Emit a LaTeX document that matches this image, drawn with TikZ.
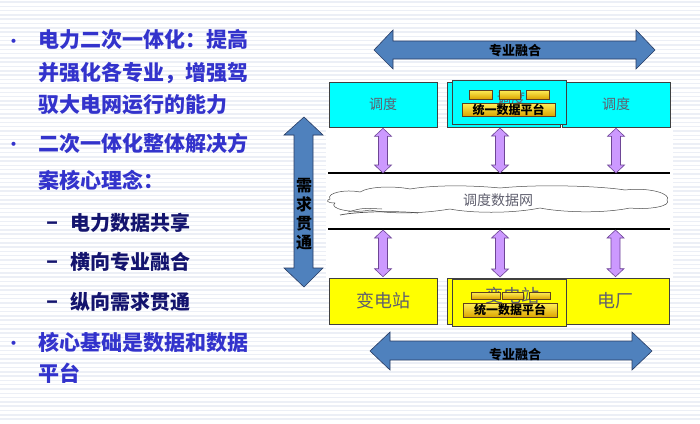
\documentclass[tikz,border=0pt]{standalone}
\usepackage{fontspec}
\setmainfont{Noto Sans CJK SC}
\newfontfamily\cjk{Noto Sans CJK SC}
\usetikzlibrary{calc}

\definecolor{bullettext}{RGB}{51,51,204}
\definecolor{subtext}{RGB}{20,20,110}
\definecolor{arrowblue}{RGB}{79,129,189}
\definecolor{arrowedge}{RGB}{40,60,100}
\definecolor{boxcyan}{RGB}{0,255,255}
\definecolor{boxyellow}{RGB}{255,255,0}
\definecolor{boxtext}{RGB}{95,95,110}
\definecolor{lavender}{RGB}{204,153,255}
\definecolor{lavedge}{RGB}{110,70,150}
\definecolor{goldtop}{RGB}{255,240,90}
\definecolor{goldbot}{RGB}{220,165,0}
\definecolor{stripe}{RGB}{236,239,246}

% vertical two-way link from #1 (upper end) to #2 (lower end)
\newcommand{\bothways}[2]{%
  \filldraw[fill=lavender, draw=lavedge, line width=0.6pt, line join=miter]
    let \p1=#1, \p2=#2 in
    (\x1,\y1) -- (\x1+8.5pt,\y1-8pt) -- (\x1+4.5pt,\y1-8pt) -- (\x1+4.5pt,\y2+8pt)
    -- (\x1+8.5pt,\y2+8pt) -- (\x1,\y2) -- (\x1-8.5pt,\y2+8pt) -- (\x1-4.5pt,\y2+8pt)
    -- (\x1-4.5pt,\y1-8pt) -- (\x1-8.5pt,\y1-8pt) -- cycle;}

\begin{document}
\begin{tikzpicture}[
    x=1pt, y=-1pt,
    font=\cjk,
    cyanbox/.style={draw=black!75, fill=boxcyan, line width=0.6pt, minimum width=108pt,
        minimum height=45pt, inner sep=0pt, text=boxtext, font=\cjk\fontsize{14}{14}\selectfont},
    yellowbox/.style={cyanbox, fill=boxyellow, minimum height=46pt, font=\cjk\fontsize{18}{18}\selectfont},
    goldbar/.style={draw=black!50!brown, top color=goldtop, bottom color=goldbot, line width=0.5pt,
        inner sep=0pt, font=\cjk\bfseries\fontsize{12}{12}\selectfont},
    bigarrow/.style={fill=arrowblue, draw=arrowedge, line width=0.6pt, line join=miter},
    arrowlabel/.style={inner sep=0pt, font=\cjk\bfseries\fontsize{13}{13}\selectfont},
    bulletline/.style={anchor=west, inner sep=0pt, text=bullettext, font=\cjk\bfseries\fontsize{21}{21}\selectfont},
    bulletmark/.style={inner sep=0pt, text=bullettext, font=\cjk\fontsize{19}{19}\selectfont},
    subline/.style={bulletline, text=subtext, font=\cjk\bfseries\fontsize{20}{20}\selectfont},
    submark/.style={inner sep=0pt, text=subtext, font=\cjk\bfseries\fontsize{22}{22}\selectfont},
    netline/.style={line width=2.6pt}
]
    \useasboundingbox (0,0) rectangle (700,423);
    \fill[white] (0,0) rectangle (700,423);

    % Slide background
    \foreach \y in {2,6.3,...,422}
        \draw[stripe, line width=1.5pt] (0,\y) -- (700,\y);
    \fill[white] (326,128) rectangle (673,278);

    % Left text
    \node[bulletmark] (b1) at (14,44) {•};
    \node[bulletline] (t1a) at (38,40) {电力二次一体化：提高};
    \node[bulletline] (t1b) at (38,73) {并强化各专业，增强驾};
    \node[bulletline] (t1c) at (38,105) {驭大电网运行的能力};
    \node[bulletmark] (b2) at (14,147) {•};
    \node[bulletline] (t2a) at (38,143) {二次一体化整体解决方};
    \node[bulletline] (t2b) at (38,180) {案核心理念：};
    \node[submark] (d1) at (53,226) {–};
    \node[subline] (s1) at (70,223) {电力数据共享};
    \node[submark] (d2) at (53,265) {–};
    \node[subline] (s2) at (70,262) {横向专业融合};
    \node[submark] (d3) at (53,305) {–};
    \node[subline] (s3) at (70,302) {纵向需求贯通};
    \node[bulletmark] (b3) at (14,346) {•};
    \node[bulletline] (t3a) at (38,342) {核心基础是数据和数据};
    \node[bulletline] (t3b) at (38,373) {平台};

    % Horizontal fusion arrows
    \draw[bigarrow] (374,50) -- (393,30) -- (393,41) -- (636,41) -- (636,30) -- (655,50)
        -- (636,69) -- (636,59) -- (393,59) -- (393,69) -- cycle;
    \node[arrowlabel] (fuseTop) at (515,51) {专业融合};
    \draw[bigarrow] (370,351) -- (390,332) -- (390,341) -- (632,341) -- (632,332) -- (652,351)
        -- (632,370) -- (632,360) -- (390,360) -- (390,370) -- cycle;
    \node[arrowlabel] (fuseBot) at (515,355) {专业融合};

    % Vertical demand arrow
    \draw[bigarrow] (304,117) -- (323,135) -- (313,135) -- (313,268) -- (323,268) -- (304,287)
        -- (284,268) -- (294,268) -- (294,135) -- (284,135) -- cycle;
    \node[inner sep=0pt, align=center, font=\cjk\bfseries\fontsize{16}{19}\selectfont] (demand)
        at (304,214) {需\\求\\贯\\通};

    % Dispatch boxes
    \node[cyanbox] (ddLeft) at (383,104.5) {调度};
    \node[cyanbox, minimum width=113pt] (ddMidBack) at (503.5,104.5) {};
    \node[cyanbox] (ddRight) at (616,104.5) {调度};
    \node[cyanbox, minimum width=114pt, minimum height=44pt] (ddMidFront) at (509,102) {};
    \node[text=boxtext, font=\cjk\fontsize{14}{14}\selectfont] (ddMidText) at (511,98) {调度};
    \node[goldbar, minimum width=23pt, minimum height=9pt] (barA) at (480.5,94.5) {};
    \node[goldbar, minimum width=21pt, minimum height=9pt] (barB) at (509.5,94.5) {};
    \node[goldbar, minimum width=23pt, minimum height=9pt] (barC) at (537.5,94.5) {};
    \node[goldbar, minimum width=93pt, minimum height=13pt] (platTop) at (508.5,109.5) {统一数据平台};

    % Substation boxes
    \node[yellowbox] (subLeft) at (383,301) {变电站};
    \node[yellowbox, minimum width=113pt] (subMidBack) at (503.5,301) {};
    \node[yellowbox] (plantRight) at (615.5,301) {电厂};
    \node[yellowbox, minimum width=114pt, minimum height=47pt] (subMidFront) at (509,302.5) {};
    \node[text=boxtext, font=\cjk\fontsize{18}{18}\selectfont] (subMidText) at (512,296) {变电站};
    \node[goldbar, minimum width=29pt, minimum height=7pt] (barD) at (485.5,295.5) {};
    \node[goldbar, minimum width=21pt, minimum height=7pt] (barE) at (512.5,295.5) {};
    \node[goldbar, minimum width=21pt, minimum height=7pt] (barF) at (539.5,295.5) {};
    \node[goldbar, minimum width=94pt, minimum height=14pt] (platBot) at (510,310) {统一数据平台};

    % Dispatch data network
    \coordinate (netTopL) at (328,173);
    \coordinate (netTopR) at (670,173);
    \coordinate (netBotL) at (328,229);
    \coordinate (netBotR) at (670,229);
    \draw[netline] (netTopL) -- (netTopR);
    \draw[netline] (netBotL) -- (netBotR);
    \filldraw[fill=white, draw=black!70, line width=0.5pt]
        (330,199) .. controls (326,193) and (345,189) .. (360,192)
        .. controls (370,186) and (395,186) .. (410,189)
        .. controls (440,184) and (480,186) .. (500,188)
        .. controls (540,184) and (600,186) .. (625,190)
        .. controls (650,187) and (672,194) .. (667,200)
        .. controls (672,206) and (650,210) .. (630,208)
        .. controls (600,214) and (560,212) .. (540,208)
        .. controls (510,214) and (470,213) .. (450,209)
        .. controls (420,214) and (390,214) .. (370,210)
        .. controls (350,214) and (328,208) .. (335,203)
        .. controls (326,203) and (326,200) .. (330,199) -- cycle;
    \draw[black!70, line width=0.7pt] (340,215) .. controls (360,211) and (400,211) .. (418,213);
    \draw[black!70, line width=0.5pt] (348,212) .. controls (362,208) .. (382,209);
    \node[text=boxtext, font=\cjk\fontsize{14}{14}\selectfont] (netName) at (498,200) {调度数据网};

    % Links to the network
    \coordinate (midUp) at (500,127);
    \coordinate (midDown) at (500,278);
    \bothways{($(ddLeft.south)+(0,1)$)}{(ddLeft.south |- netTopL)}
    \bothways{($(midUp)+(0,1)$)}{(midUp |- netTopL)}
    \bothways{($(ddRight.south)+(0,1)$)}{(ddRight.south |- netTopL)}
    \bothways{($(subLeft.north |- netBotL)+(0,1)$)}{($(subLeft.north)+(0,-1)$)}
    \bothways{($(midDown |- netBotL)+(0,1)$)}{($(midDown)+(0,-1)$)}
    \bothways{($(plantRight.north |- netBotL)+(0,1)$)}{($(plantRight.north)+(0,-1)$)}
\end{tikzpicture}
\end{document}
